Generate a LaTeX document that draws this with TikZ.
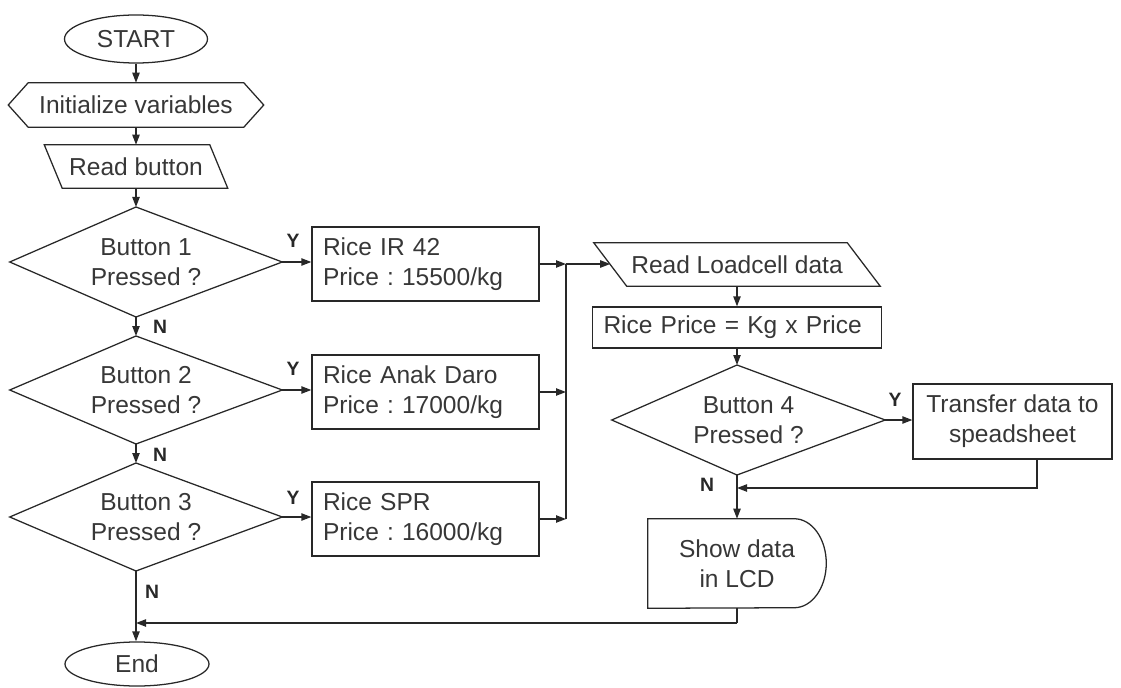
\documentclass[tikz,border=0pt]{standalone}
\usepackage{fontspec}
\setmainfont{Liberation Sans}
\frenchspacing
\usetikzlibrary{shapes.geometric,arrows.meta,calc}
\definecolor{ink}{RGB}{40,40,40}
\definecolor{txt}{RGB}{55,55,55}
\tikzset{
  every node/.style={font=\fontsize{18.4}{22.5}\selectfont, text=txt},
  line/.style={draw=ink, line width=0.95pt},
  arr/.style={line, -{Triangle[length=7.5pt,width=5.5pt]}},
  term/.style={ellipse, line, inner sep=0pt},
  procbox/.style={rectangle, line, inner sep=0pt},
  ghost/.style={rectangle, draw=none, inner sep=0pt, align=center},
  decbox/.style={ghost, minimum width=204pt, minimum height=81pt},
  yn/.style={font=\fontsize{14.5}{16}\selectfont\bfseries, text=ink, inner sep=0pt}
}
\begin{document}
\begin{tikzpicture}[x=0.75pt,y=-0.75pt]
\useasboundingbox (0,0) rectangle (1121,688);

% ---- left column ----
\node[term, minimum width=107.25pt, minimum height=36pt] (start) at (136,39) {START};
\node[ghost, minimum width=191.25pt, minimum height=33pt] (init) at (136,105) {Initialize variables};
\draw[line] (init.west) -- ([xshift=15pt]init.north west) -- ([xshift=-15pt]init.north east)
  -- (init.east) -- ([xshift=-15pt]init.south east) -- ([xshift=15pt]init.south west) -- cycle;
\node[ghost, minimum width=123.75pt, minimum height=32.25pt] (rbtn) at (136,166.5) {Read button};
\draw[line] ([xshift=-6.75pt]rbtn.north west) -- ([xshift=-6.75pt]rbtn.north east)
  -- ([xshift=6.75pt]rbtn.south east) -- ([xshift=6.75pt]rbtn.south west) -- cycle;

% decisions: the upper and lower corners sit on the flow line at x = 136
\node[decbox] (d1) at (146,262) {Button 1\\Pressed ?};
\coordinate (d1t) at (136,207);
\coordinate (d1b) at (136,317);
\draw[line] (d1.west) -- (d1t) -- (d1.east) -- (d1b) -- cycle;
\node[decbox] (d2) at (146,390) {Button 2\\Pressed ?};
\coordinate (d2t) at (136,336);
\coordinate (d2b) at (136,444);
\draw[line] (d2.west) -- (d2t) -- (d2.east) -- (d2b) -- cycle;
\node[decbox] (d3) at (146,517) {Button 3\\Pressed ?};
\coordinate (d3t) at (136,463);
\coordinate (d3b) at (136,571);
\draw[line] (d3.west) -- (d3t) -- (d3.east) -- (d3b) -- cycle;

\node[term, minimum width=108pt, minimum height=33pt] (end) at (137,664) {End};

% ---- price boxes ----
\tikzset{pricebox/.style={procbox, minimum width=170.25pt, minimum height=55.5pt,
  align=left, text width=153.75pt, inner xsep=8.25pt}}
\node[pricebox] (b1) at (425.5,264) {Rice IR 42\\Price : 15500/kg};
\node[pricebox] (b2) at (425.5,392) {Rice Anak Daro\\Price : 17000/kg};
\node[pricebox] (b3) at (425.5,519) {Rice SPR\\Price : 16000/kg};

% ---- right column ----
\node[ghost, minimum width=189.75pt, minimum height=32.25pt] (rl) at (737,264.5) {Read Loadcell data};
\draw[line] ([xshift=-12.375pt]rl.north west) -- ([xshift=-12.375pt]rl.north east)
  -- ([xshift=12.375pt]rl.south east) -- ([xshift=12.375pt]rl.south west) -- cycle;
\node[procbox, minimum width=216.75pt, minimum height=30.75pt, align=left,
  text width=200.25pt, inner xsep=8.25pt] (rp) at (737,327.5) {Rice Price = Kg x Price};

\node[ghost, minimum width=204.75pt, minimum height=82.5pt] (d4) at (748.5,420) {Button 4\\Pressed ?};
\coordinate (d4t) at (737,365);
\coordinate (d4b) at (737,475);
\draw[line] (d4.west) -- (d4t) -- (d4.east) -- (d4b) -- cycle;

\node[procbox, minimum width=149.25pt, minimum height=56.25pt, align=center] (tr) at (1012.5,421.5)
  {Transfer data to\\speadsheet};

\node[ghost, minimum width=133.5pt, minimum height=66.75pt] (sd) at (737,563.5) {Show data\\in LCD};
\draw[line] (sd.north west) -- ([xshift=-24pt]sd.north east)
  arc[start angle=90, end angle=-90, x radius=24pt, y radius=33.375pt]
  -- (sd.south west) -- cycle;

% ---- helper points ----
\coordinate (mx) at (566,264);
\coordinate (j4) at (737,488);
\coordinate (trout) at (1037,459);
\coordinate (sdout) at (737,623);
\coordinate (j5) at (136,623);

% ---- connectors: main column ----
\draw[arr] (start) -- (init);
\draw[arr] (init) -- (rbtn);
\draw[arr] (rbtn) -- (d1t);
\draw[arr] (d1b) -- (d2t);
\draw[arr] (d2b) -- (d3t);
\draw[arr] (d3b) -- (end.north -| d3b);

% ---- yes branches ----
\draw[arr] (d1.east) -- (d1.east -| b1.west);
\draw[arr] (d2.east) -- (d2.east -| b2.west);
\draw[arr] (d3.east) -- (d3.east -| b3.west);
\draw[arr] (b1.east) -- (b1.east -| mx);
\draw[arr] (b2.east) -- (b2.east -| mx);
\draw[arr] (b3.east) -- (b3.east -| mx);
\draw[line] (b3.east -| mx) -- (mx);
\draw[arr] (mx) -- (mx -| rl.west);

% ---- right column ----
\draw[arr] (rl) -- (rp);
\draw[arr] (rp) -- (d4t);
\draw[arr] (d4.east) -- (d4.east -| tr.west);
\draw[arr] (d4b) -- (sd.north);
\draw[arr] (trout) |- (j4);
\draw[line] (sd.south) -- (sdout);
\draw[arr] (sdout) -- (j5);

% ---- labels ----
\node[yn] (y1) at (293,241) {Y};
\node[yn] (y2) at (293,369) {Y};
\node[yn] (y3) at (293,498) {Y};
\node[yn] (y4) at (895,400) {Y};
\node[yn] (n1) at (160,327) {N};
\node[yn] (n2) at (160,455) {N};
\node[yn] (n3) at (152,592) {N};
\node[yn] (n4) at (707,485) {N};
\end{tikzpicture}
\end{document}
